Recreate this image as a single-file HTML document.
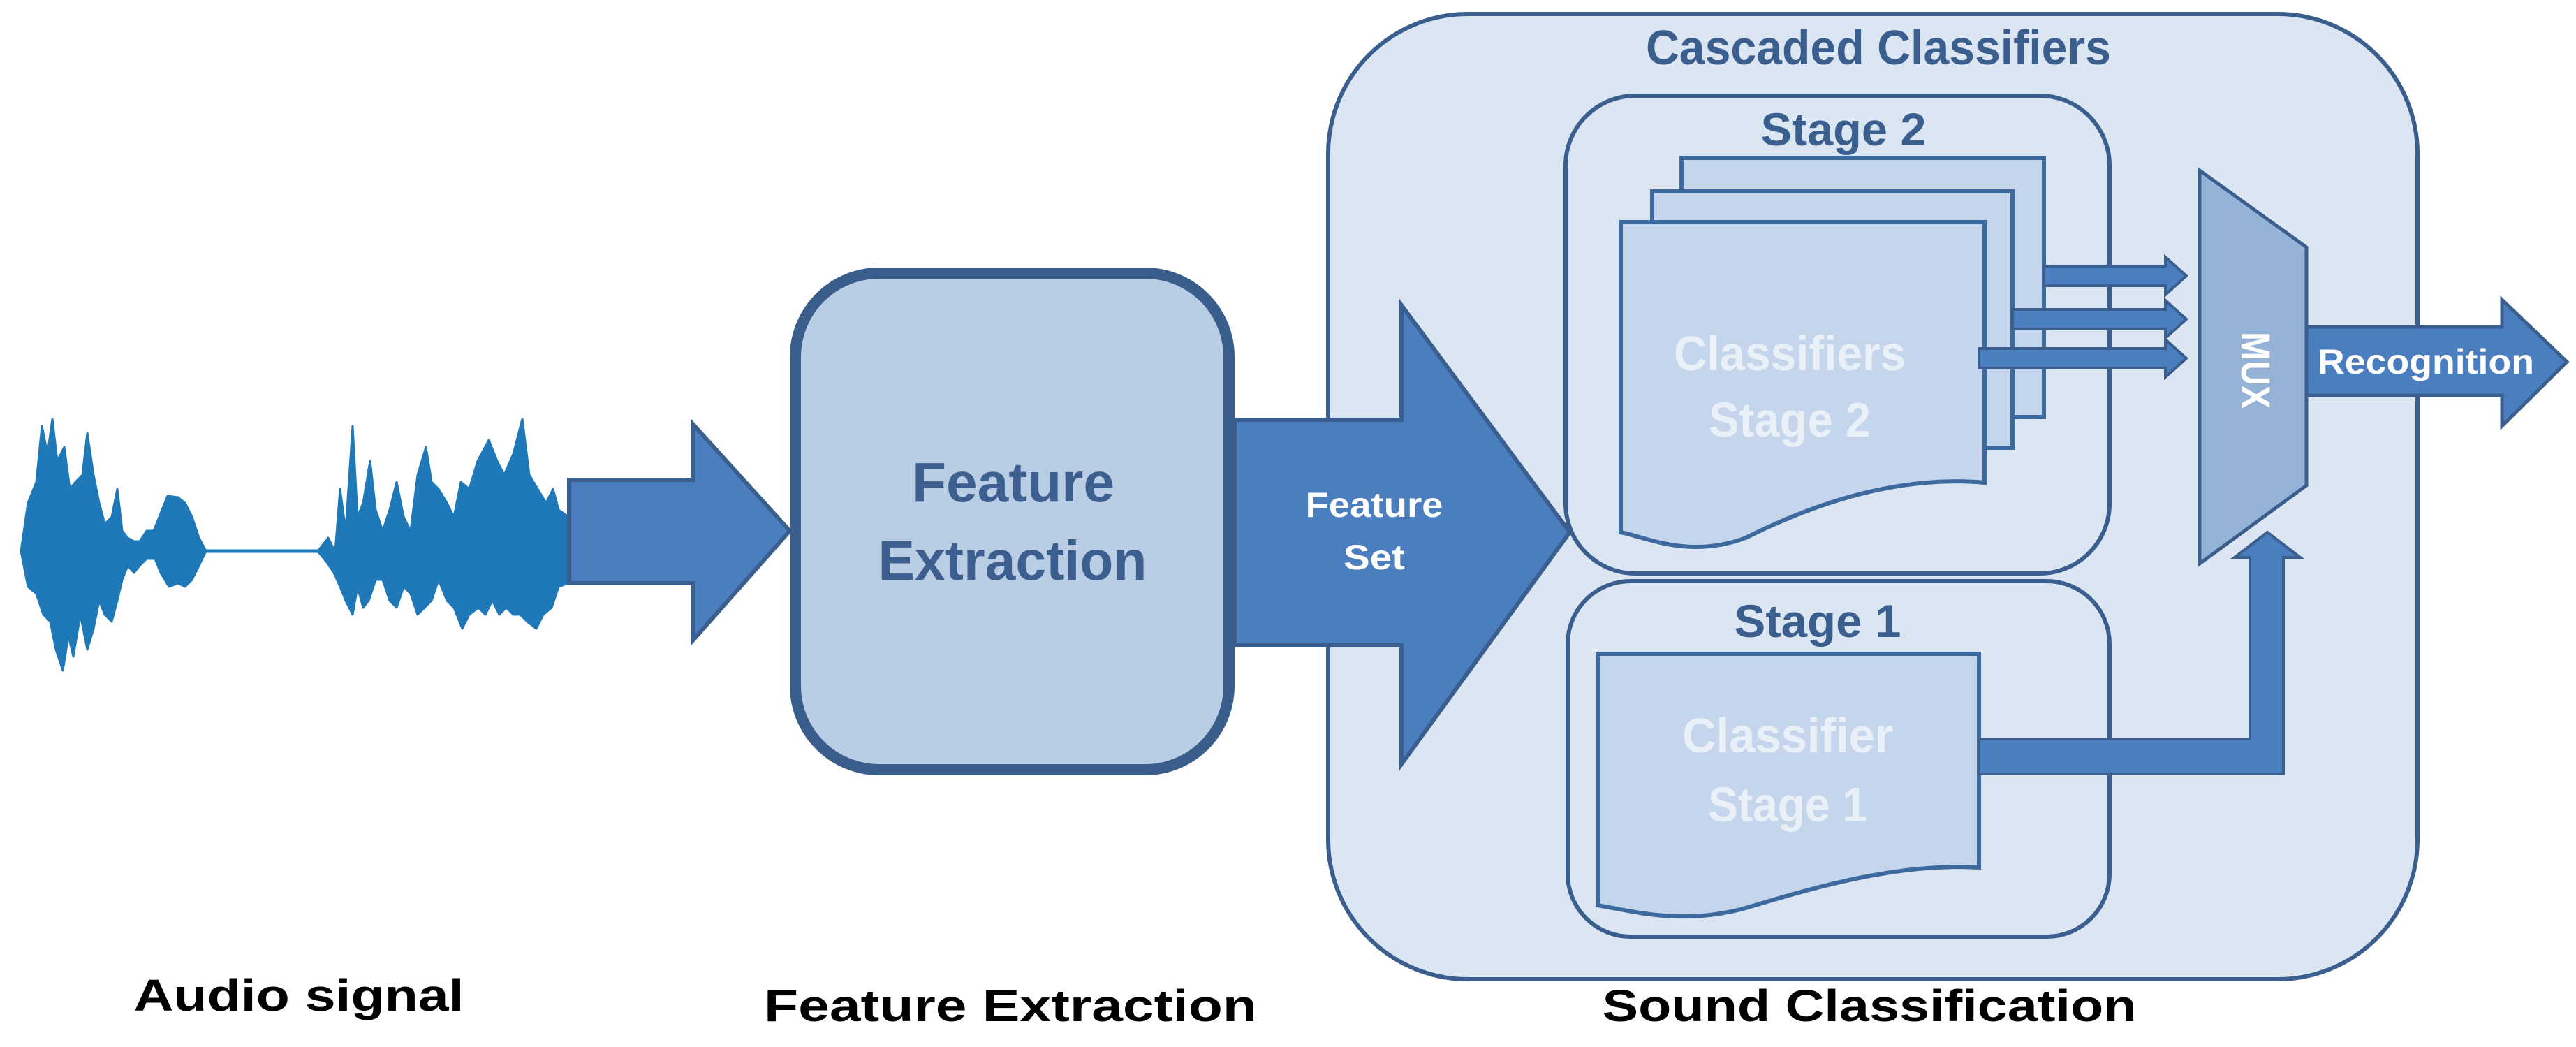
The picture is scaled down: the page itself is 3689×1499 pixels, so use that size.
<!DOCTYPE html>
<html><head><meta charset="utf-8"><style>html,body{margin:0;padding:0;background:#fff}svg{display:block}</style></head>
<body>
<svg width="3689" height="1499" viewBox="0 0 3689 1499" xmlns="http://www.w3.org/2000/svg" font-family="'Liberation Sans', sans-serif" font-weight="bold">
<!-- waveform -->
<g fill="#1f78b8" stroke="#1f78b8" stroke-width="3" stroke-linejoin="round">
<path d="M30,789 L40,720 L52,690 L60,610 L68,650 L75,600 L82,660 L92,640 L100,700 L108,690 L118,680 L125,620 L134,680 L142,720 L150,750 L160,740 L168,700 L175,760 L183,770 L192,775 L200,775 L210,760 L220,760 L228,740 L240,710 L255,712 L265,720 L275,740 L285,770 L295,789
L285,810 L275,830 L265,840 L255,835 L242,840 L230,820 L222,800 L210,800 L200,810 L192,820 L183,810 L175,830 L168,860 L160,890 L150,880 L142,860 L134,900 L125,930 L115,880 L105,940 L98,910 L90,960 L80,930 L72,890 L62,880 L52,850 L40,840 Z"/>
<path d="M295,789 L470,789" stroke-width="5" fill="none"/>
<path d="M455,789 L470,770 L480,790 L487,700 L495,760 L505,610 L512,740 L520,720 L530,660 L538,730 L548,760 L558,730 L568,690 L578,740 L588,760 L598,680 L610,640 L618,690 L628,700 L640,720 L650,740 L660,690 L672,700 L684,660 L700,630 L712,660 L722,680 L735,650 L748,600 L758,680 L770,700 L782,720 L792,700 L800,730 L814,740
L814,835 L800,840 L790,870 L778,880 L768,900 L755,890 L745,880 L735,880 L725,870 L715,880 L705,860 L695,880 L685,870 L672,880 L662,900 L650,870 L640,860 L628,830 L618,860 L608,870 L598,880 L588,850 L578,840 L568,870 L558,860 L548,830 L538,830 L528,860 L520,870 L512,840 L505,880 L495,860 L487,840 L478,820 L468,805 Z"/>
</g>
<!-- input arrow -->
<path d="M815,687 H993 V608 L1131,760 L993,916 V835 H815 Z" fill="#4a7ebf" stroke="#3a5f8f" stroke-width="6"/>
<!-- Feature extraction box -->
<rect x="1139" y="391" width="621" height="711" rx="120" fill="#b9cde4" stroke="#3a5e8c" stroke-width="16"/>
<text x="1451" y="718" font-size="80" fill="#3d5f8f" text-anchor="middle" textLength="290" lengthAdjust="spacingAndGlyphs">Feature</text>
<text x="1450" y="830" font-size="80" fill="#3d5f8f" text-anchor="middle" textLength="385" lengthAdjust="spacingAndGlyphs">Extraction</text>
<!-- outer cascaded box -->
<rect x="1902" y="20" width="1560" height="1382" rx="200" fill="#dce6f2" stroke="#3a5f8f" stroke-width="6"/>
<text x="2690" y="92" font-size="70" fill="#3a5f8f" text-anchor="middle" textLength="666" lengthAdjust="spacingAndGlyphs">Cascaded Classifiers</text>
<!-- feature set arrow -->
<path d="M1768,601 H2007 V437 L2248,762 L2007,1094 V924 H1768 Z" fill="#4a7ebf" stroke="#3a5f8f" stroke-width="6"/>
<text x="1968" y="740" font-size="50" fill="#ffffff" text-anchor="middle" textLength="197" lengthAdjust="spacingAndGlyphs">Feature</text>
<text x="1968" y="815" font-size="50" fill="#ffffff" text-anchor="middle" textLength="88" lengthAdjust="spacingAndGlyphs">Set</text>
<!-- stage boxes -->
<rect x="2242" y="137" width="779" height="684" rx="100" fill="#dce6f2" stroke="#3a5f8f" stroke-width="6"/>
<text x="2640" y="208" font-size="66" fill="#3a5f8f" text-anchor="middle" textLength="237" lengthAdjust="spacingAndGlyphs">Stage 2</text>
<rect x="2245" y="832" width="776" height="509" rx="90" fill="#dce6f2" stroke="#3a5f8f" stroke-width="6"/>
<text x="2603" y="912" font-size="66" fill="#3a5f8f" text-anchor="middle" textLength="239" lengthAdjust="spacingAndGlyphs">Stage 1</text>
<!-- stage 2 pages -->
<rect x="2408" y="226" width="519" height="371" fill="#c5d6ec" stroke="#3d6a9e" stroke-width="6"/>
<rect x="2366" y="274" width="516" height="367" fill="#c5d6ec" stroke="#3d6a9e" stroke-width="6"/>
<path d="M2321,318 H2842 V691 C2720,680 2600,720 2500,770 C2420,800 2360,770 2321,762 Z" fill="#c5d6ec" stroke="#3d6a9e" stroke-width="6"/>
<text x="2563" y="530" font-size="70" fill="#eaf0f8" text-anchor="middle" textLength="332" lengthAdjust="spacingAndGlyphs">Classifiers</text>
<text x="2563" y="625" font-size="70" fill="#eaf0f8" text-anchor="middle" textLength="232" lengthAdjust="spacingAndGlyphs">Stage 2</text>
<!-- small arrows -->
<g fill="#4a7ebf" stroke="#3a5f8f" stroke-width="4">
<path d="M2927,381 H3101 V368 L3131,395 L3101,422 V409 H2927 Z"/>
<path d="M2882,443 H3101 V430 L3131,457 L3101,484 V471 H2882 Z"/>
<path d="M2834,499 H3101 V486 L3131,513 L3101,540 V527 H2834 Z"/>
</g>
<!-- MUX -->
<path d="M3150,244 L3303,354 V695 L3150,807 Z" fill="#95b3d7" stroke="#3a5f8f" stroke-width="5"/>
<text x="0" y="0" font-size="58" fill="#ffffff" text-anchor="middle" transform="translate(3210,530) rotate(90)" textLength="110" lengthAdjust="spacingAndGlyphs">MUX</text>
<!-- recognition arrow -->
<path d="M3303,468 H3583 V429 L3676,518 L3583,610 V566 H3303 Z" fill="#4a7ebf" stroke="#3a5f8f" stroke-width="5"/>
<text x="3474" y="535" font-size="50" fill="#ffffff" text-anchor="middle" textLength="310" lengthAdjust="spacingAndGlyphs">Recognition</text>
<!-- stage 1 doc -->
<path d="M2288,936 H2834 V1242 C2720,1235 2600,1270 2500,1300 C2410,1325 2340,1305 2288,1296 Z" fill="#c5d6ec" stroke="#3d6a9e" stroke-width="6"/>
<text x="2560" y="1077" font-size="70" fill="#eaf0f8" text-anchor="middle" textLength="302" lengthAdjust="spacingAndGlyphs">Classifier</text>
<text x="2560" y="1176" font-size="70" fill="#eaf0f8" text-anchor="middle" textLength="228" lengthAdjust="spacingAndGlyphs">Stage 1</text>
<!-- elbow arrow -->
<path d="M2834,1058 H3222 V798 H3200 L3247,762 L3294,798 H3270 V1108 H2834 Z" fill="#4a7ebf" stroke="#3a5f8f" stroke-width="4"/>
<!-- bottom labels -->
<text x="428" y="1447" font-size="64" fill="#000" text-anchor="middle" textLength="473" lengthAdjust="spacingAndGlyphs">Audio signal</text>
<text x="1447" y="1462" font-size="64" fill="#000" text-anchor="middle" textLength="706" lengthAdjust="spacingAndGlyphs">Feature Extraction</text>
<text x="2677" y="1462" font-size="64" fill="#000" text-anchor="middle" textLength="765" lengthAdjust="spacingAndGlyphs">Sound Classification</text>
</svg>
</body></html>
